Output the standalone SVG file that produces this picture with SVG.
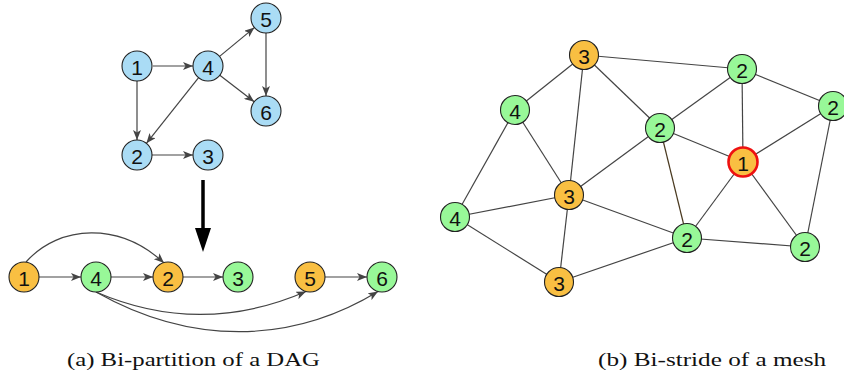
<svg xmlns="http://www.w3.org/2000/svg" width="844" height="378" viewBox="0 0 844 378">
<style>
.n{stroke:#222;stroke-width:1.1}
.b{fill:#aadcf5}
.o{fill:#f9bf42}
.g{fill:#98f898}
.r{stroke:#ee1111;stroke-width:2.6}
.t{font-family:"Liberation Sans",Arial,sans-serif;font-size:21px;fill:#111;text-anchor:middle;dominant-baseline:central}
.e{stroke:#444;stroke-width:1.2;fill:none}
.a{marker-end:url(#ah)}
.cap{font-family:"Liberation Serif","Times New Roman",serif;font-size:18px;fill:#111}
</style>
<defs>
<marker id="ah" viewBox="0 0 10 8" refX="10" refY="4" markerWidth="10" markerHeight="8" markerUnits="userSpaceOnUse" orient="auto">
<path d="M0,0 L10,4 L0,8 L2.5,4 z" fill="#444"/>
</marker>
</defs>
<rect width="844" height="378" fill="#fff"/>
<g id="connectors">
<line class="e a" x1="153" y1="66" x2="193" y2="66"/>
<line class="e a" x1="137" y1="81" x2="137" y2="140"/>
<line class="e a" x1="198.6" y1="77.7" x2="146.4" y2="143.3"/>
<line class="e a" x1="219.6" y1="56.4" x2="254.4" y2="27.6"/>
<line class="e a" x1="219.8" y1="75.2" x2="254.2" y2="101.8"/>
<line class="e a" x1="266" y1="33" x2="266" y2="96"/>
<line class="e a" x1="152" y1="155" x2="193" y2="155"/>
<line x1="203" y1="180" x2="203" y2="232" stroke="#000" stroke-width="3.5"/>
<polygon points="195,228 211,228 203,252" fill="#000"/>
<line class="e a" x1="39" y1="277" x2="81" y2="277"/>
<line class="e a" x1="111" y1="277" x2="153" y2="277"/>
<line class="e a" x1="183" y1="277" x2="223" y2="277"/>
<line class="e a" x1="325" y1="277" x2="367" y2="277"/>
<path class="e a" d="M26,262 C60,224 120,222 164,263"/>
<path class="e a" d="M96,292 C170,324 240,320 306,291.5"/>
<path class="e a" d="M96,292 C190,345 290,345 378,291.5"/>
<line class="e" x1="584" y1="55" x2="742" y2="69"/>
<line class="e" x1="584" y1="55" x2="515" y2="110"/>
<line class="e" x1="584" y1="55" x2="569" y2="195"/>
<line class="e" x1="584" y1="55" x2="660" y2="128"/>
<line class="e" x1="742" y1="69" x2="660" y2="128"/>
<line class="e" x1="742" y1="69" x2="743" y2="162"/>
<line class="e" x1="742" y1="69" x2="833" y2="106"/>
<line class="e" x1="833" y1="106" x2="743" y2="162"/>
<line class="e" x1="833" y1="106" x2="805" y2="247"/>
<line class="e" x1="515" y1="110" x2="569" y2="195"/>
<line class="e" x1="515" y1="110" x2="455" y2="217"/>
<line class="e" x1="660" y1="128" x2="743" y2="162"/>
<line class="e" x1="660" y1="128" x2="569" y2="195"/>
<line class="e" x1="660" y1="128" x2="687" y2="238" style="stroke:#4a3a20"/>
<line class="e" x1="743" y1="162" x2="687" y2="238"/>
<line class="e" x1="743" y1="162" x2="805" y2="247"/>
<line class="e" x1="569" y1="195" x2="455" y2="217"/>
<line class="e" x1="569" y1="195" x2="687" y2="238"/>
<line class="e" x1="569" y1="195" x2="559" y2="282"/>
<line class="e" x1="455" y1="217" x2="559" y2="282"/>
<line class="e" x1="559" y1="282" x2="687" y2="238"/>
<line class="e" x1="687" y1="238" x2="805" y2="247"/>
</g>
<g id="dag1"><circle class="n b" cx="137" cy="66" r="15"/><text class="t" x="137" y="67">1</text></g>
<g id="dag4"><circle class="n b" cx="208" cy="66" r="15"/><text class="t" x="208" y="67">4</text></g>
<g id="dag5"><circle class="n b" cx="266" cy="18" r="15"/><text class="t" x="266" y="19">5</text></g>
<g id="dag6"><circle class="n b" cx="266" cy="111" r="15"/><text class="t" x="266" y="112">6</text></g>
<g id="dag2"><circle class="n b" cx="137" cy="155" r="15"/><text class="t" x="137" y="156">2</text></g>
<g id="dag3"><circle class="n b" cx="208" cy="155" r="15"/><text class="t" x="208" y="156">3</text></g>
<g id="bp1"><circle class="n o" cx="24" cy="277" r="15"/><text class="t" x="24" y="278">1</text></g>
<g id="bp4"><circle class="n g" cx="96" cy="277" r="15"/><text class="t" x="96" y="278">4</text></g>
<g id="bp2"><circle class="n o" cx="168" cy="277" r="15"/><text class="t" x="168" y="278">2</text></g>
<g id="bp3"><circle class="n g" cx="238" cy="277" r="15"/><text class="t" x="238" y="278">3</text></g>
<g id="bp5"><circle class="n o" cx="310" cy="277" r="15"/><text class="t" x="310" y="278">5</text></g>
<g id="bp6"><circle class="n g" cx="382" cy="277" r="15"/><text class="t" x="382" y="278">6</text></g>
<g id="mA"><circle class="n o" cx="584" cy="55" r="14.5"/><text class="t" x="584" y="56">3</text></g>
<g id="mB"><circle class="n g" cx="742" cy="69" r="14.5"/><text class="t" x="742" y="70">2</text></g>
<g id="mC"><circle class="n g" cx="833" cy="106" r="14.5"/><text class="t" x="833" y="107">2</text></g>
<g id="mD"><circle class="n g" cx="515" cy="110" r="14.5"/><text class="t" x="515" y="111">4</text></g>
<g id="mE"><circle class="n g" cx="660" cy="128" r="14.5"/><text class="t" x="660" y="129">2</text></g>
<g id="mF"><circle class="n o r" cx="743" cy="162" r="14.5"/><text class="t" x="743" y="163">1</text></g>
<g id="mG"><circle class="n o" cx="569" cy="195" r="14.5"/><text class="t" x="569" y="196">3</text></g>
<g id="mH"><circle class="n g" cx="455" cy="217" r="14.5"/><text class="t" x="455" y="218">4</text></g>
<g id="mI"><circle class="n g" cx="687" cy="238" r="14.5"/><text class="t" x="687" y="239">2</text></g>
<g id="mJ"><circle class="n g" cx="805" cy="247" r="14.5"/><text class="t" x="805" y="248">2</text></g>
<g id="mK"><circle class="n o" cx="559" cy="282" r="14.5"/><text class="t" x="559" y="283">3</text></g>
<g transform="scale(1.35,1)">
<text class="cap" x="49.6" y="366" textLength="187.4" lengthAdjust="spacingAndGlyphs">(a) Bi-partition of a DAG</text>
<text class="cap" x="443" y="366" textLength="168.9" lengthAdjust="spacingAndGlyphs">(b) Bi-stride of a mesh</text>
</g>
</svg>
